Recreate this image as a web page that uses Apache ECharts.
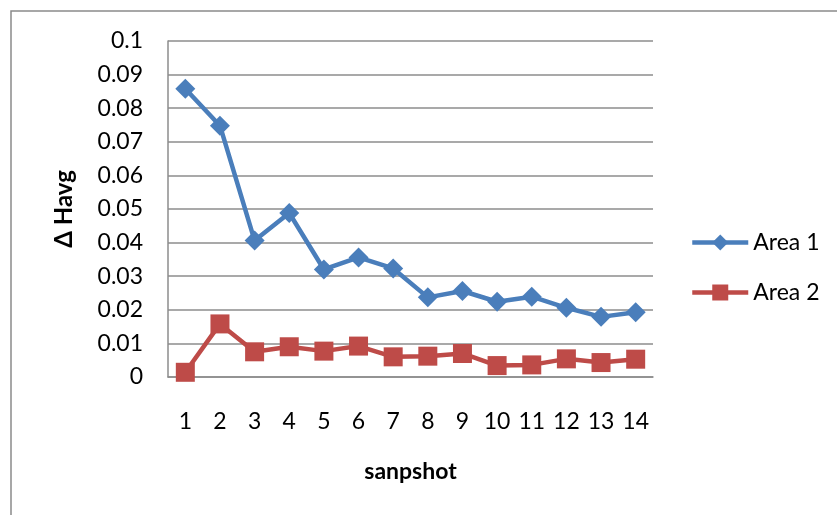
<!DOCTYPE html>
<html>
<head>
<meta charset="utf-8">
<script src="https://cdn.jsdelivr.net/npm/echarts@6/dist/echarts.min.js"></script>
<style>
  html, body { margin: 0; padding: 0; background: #fff; }
  #chart { width: 837px; height: 515px; }
</style>
</head>
<body>
<div id="chart"></div>
<script>
// Snapshot indices along the x axis
const snapshots = ['1', '2', '3', '4', '5', '6', '7', '8', '9', '10', '11', '12', '13', '14'];

// ΔHavg per snapshot for each area
const area1 = [0.0858, 0.0748, 0.0406, 0.0488, 0.0320, 0.0356, 0.0323, 0.0237, 0.0256, 0.0224, 0.0239, 0.0206, 0.0179, 0.0193];
const area2 = [0.0014, 0.0158, 0.0075, 0.0090, 0.0077, 0.0092, 0.0060, 0.0062, 0.0070, 0.0034, 0.0036, 0.0054, 0.0043, 0.0053];

const FONT = 'Lato, "Open Sans", sans-serif';
const GRID_GRAY = '#8c8c8c';

const chart = echarts.init(document.getElementById('chart'), null, { renderer: 'canvas' });

chart.setOption({
  animation: false,
  backgroundColor: '#ffffff',
  textStyle: { fontFamily: FONT },
  graphic: [{
    type: 'rect',
    shape: { x: 11, y: 11, width: 900, height: 600 },
    style: { fill: 'none', stroke: '#8a8a8a', lineWidth: 1.5 },
    silent: true,
    z: -1
  }],
  grid: { left: 168, right: 184, top: 41, bottom: 138 },
  legend: {
    orient: 'vertical',
    left: 685,
    top: 226,
    itemWidth: 56,
    itemHeight: 20,
    itemGap: 27,
    lineStyle: { width: 4.5 },
    textStyle: { fontFamily: FONT, fontSize: 23, color: '#000' },
    data: ['Area 1', 'Area 2']
  },
  xAxis: {
    type: 'category',
    data: snapshots,
    boundaryGap: true,
    name: 'sanpshot',
    nameLocation: 'middle',
    nameMoveOverlap: false,
    nameGap: 83,
    nameTextStyle: { fontFamily: FONT, fontSize: 23, fontWeight: 'bold', color: '#000' },
    axisLine: { lineStyle: { color: GRID_GRAY, width: 1.5 } },
    axisTick: { show: false },
    axisLabel: { fontFamily: FONT, fontSize: 23, color: '#000', margin: 33, interval: 0 }
  },
  yAxis: {
    type: 'value',
    min: 0,
    max: 0.1,
    interval: 0.01,
    name: 'Δ Havg',
    nameLocation: 'middle',
    nameMoveOverlap: false,
    nameRotate: 90,
    nameGap: 92,
    nameTextStyle: { fontFamily: FONT, fontSize: 24, fontWeight: 'bold', color: '#000' },
    axisLine: { show: true, lineStyle: { color: GRID_GRAY, width: 1.5 } },
    axisTick: { show: false },
    axisLabel: {
      fontFamily: FONT, fontSize: 23, color: '#000', margin: 25,
      formatter: v => String(+v.toFixed(2))
    },
    splitLine: { lineStyle: { color: GRID_GRAY, width: 1.5 } }
  },
  series: [
    {
      name: 'Area 1',
      type: 'line',
      data: area1,
      symbol: 'diamond',
      symbolSize: 20,
      itemStyle: { color: '#4a7ebb' },
      lineStyle: { color: '#4a7ebb', width: 4.5 }
    },
    {
      name: 'Area 2',
      type: 'line',
      data: area2,
      symbol: 'rect',
      symbolSize: 19,
      itemStyle: { color: '#be4b48' },
      lineStyle: { color: '#be4b48', width: 4.5 }
    }
  ]
});
</script>
</body>
</html>
